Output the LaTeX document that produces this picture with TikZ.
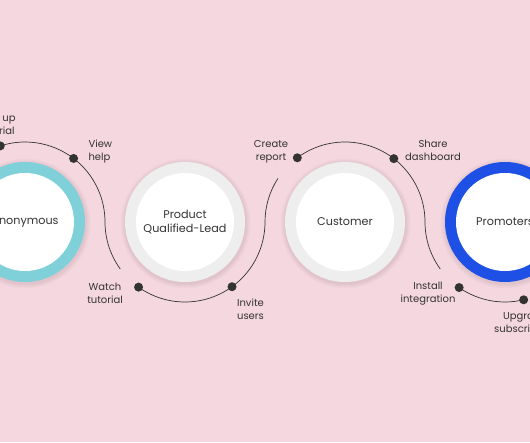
\documentclass[tikz,border=0pt]{standalone}
\usepackage{fontspec}
\setmainfont{Poppins}
\usetikzlibrary{calc,positioning}
\definecolor{bgpink}{HTML}{F5D7DF}
\definecolor{ringteal}{HTML}{7FD0D8}
\definecolor{ringblue}{HTML}{1E50E6}
\definecolor{ringgray}{HTML}{EEEEEE}
\definecolor{inkgray}{HTML}{333333}
\newcommand{\looprad}{80pt}

\begin{document}
\begin{tikzpicture}[x=1pt,y=1pt,
    ring/.style={circle,inner sep=0pt,minimum size=120pt},
    core/.style={circle,fill=white,inner sep=0pt,minimum size=98pt,align=center,
        text=inkgray,font=\fontsize{11.2}{13.5}\selectfont},
    dot/.style={circle,fill=inkgray,inner sep=0pt,minimum size=9pt},
    tag/.style={align=center,text=inkgray,font=\fontsize{10}{13}\selectfont},
    link/.style={draw=inkgray,line width=0.7pt}]
    \useasboundingbox (0,0) rectangle (530,442);
    \clip (0,0) rectangle (530,442);
    \fill[bgpink] (0,0) rectangle (530,442);

    % stages
    \foreach \cx in {25,185,345,505}
        \foreach \i in {1,...,5}
            \fill[black,opacity=0.014] (\cx+0.5,218.5) circle[radius={(60+\i)*1pt}];
    \node[ring,fill=ringteal] (an) at (25,220) {};
    \node[ring,fill=ringgray] (pq) at (185,220) {};
    \node[ring,fill=ringgray] (cu) at (345,220) {};
    \node[ring,fill=ringblue] (pr) at (505,220) {};
    \node[core] (anc) at (an) {Anonymous};
    \node[core] (pqc) at (pq) {Product\\Qualified-Lead};
    \node[core] (cuc) at (cu) {Customer};
    \node[core] (prc) at (pr) {Promoters};

    % steps
    \coordinate (su) at ($(an)+(108:\looprad)$);
    \coordinate (vh) at ($(an)+(52.6:\looprad)$);
    \coordinate (wt) at ($(pq)+(234.5:\looprad)$);
    \coordinate (iu) at ($(pq)+(-54:\looprad)$);
    \coordinate (cr) at ($(cu)+(126.6:\looprad)$);
    \coordinate (sd) at ($(cu)+(52.4:\looprad)$);
    \coordinate (ii) at ($(pr)+(235:\looprad)$);
    \coordinate (us) at ($(pr)+(283.5:\looprad)$);

    \draw[link] (su) arc[start angle=108,end angle=0,radius=\looprad]
        arc[start angle=180,end angle=216,radius=\looprad] coordinate (e1);
    \draw[link] (wt) arc[start angle=234.5,end angle=360,radius=\looprad]
        arc[start angle=180,end angle=147,radius=\looprad] coordinate (e2);
    \draw[link] (cr) arc[start angle=126.6,end angle=0,radius=\looprad]
        arc[start angle=180,end angle=216,radius=\looprad] coordinate (e3);
    \draw[link] (ii) arc[start angle=235,end angle=283.5,radius=\looprad];

    \foreach \p in {su,vh,wt,iu,cr,sd,ii,us}
        \node[dot] (\p d) at (\p) {};

    \node[tag] (sut) at (-3,318) {Sign up\\for trial};
    \node[tag,align=left,anchor=west] (vht) at (85,291) {View\\help};
    \node[tag] (wtt) at (105,148.5) {Watch\\tutorial};
    \node[tag] (iut) at (250.5,132.5) {Invite\\users};
    \node[tag] (crt) at (271,290.5) {Create\\report};
    \node[tag] (sdt) at (433,291.5) {Share\\dashboard};
    \node[tag] (iit) at (428,148.5) {Install\\integration};
    \node[tag] (ust) at (525,118.5) {Upgrade\\subscription};
\end{tikzpicture}
\end{document}
